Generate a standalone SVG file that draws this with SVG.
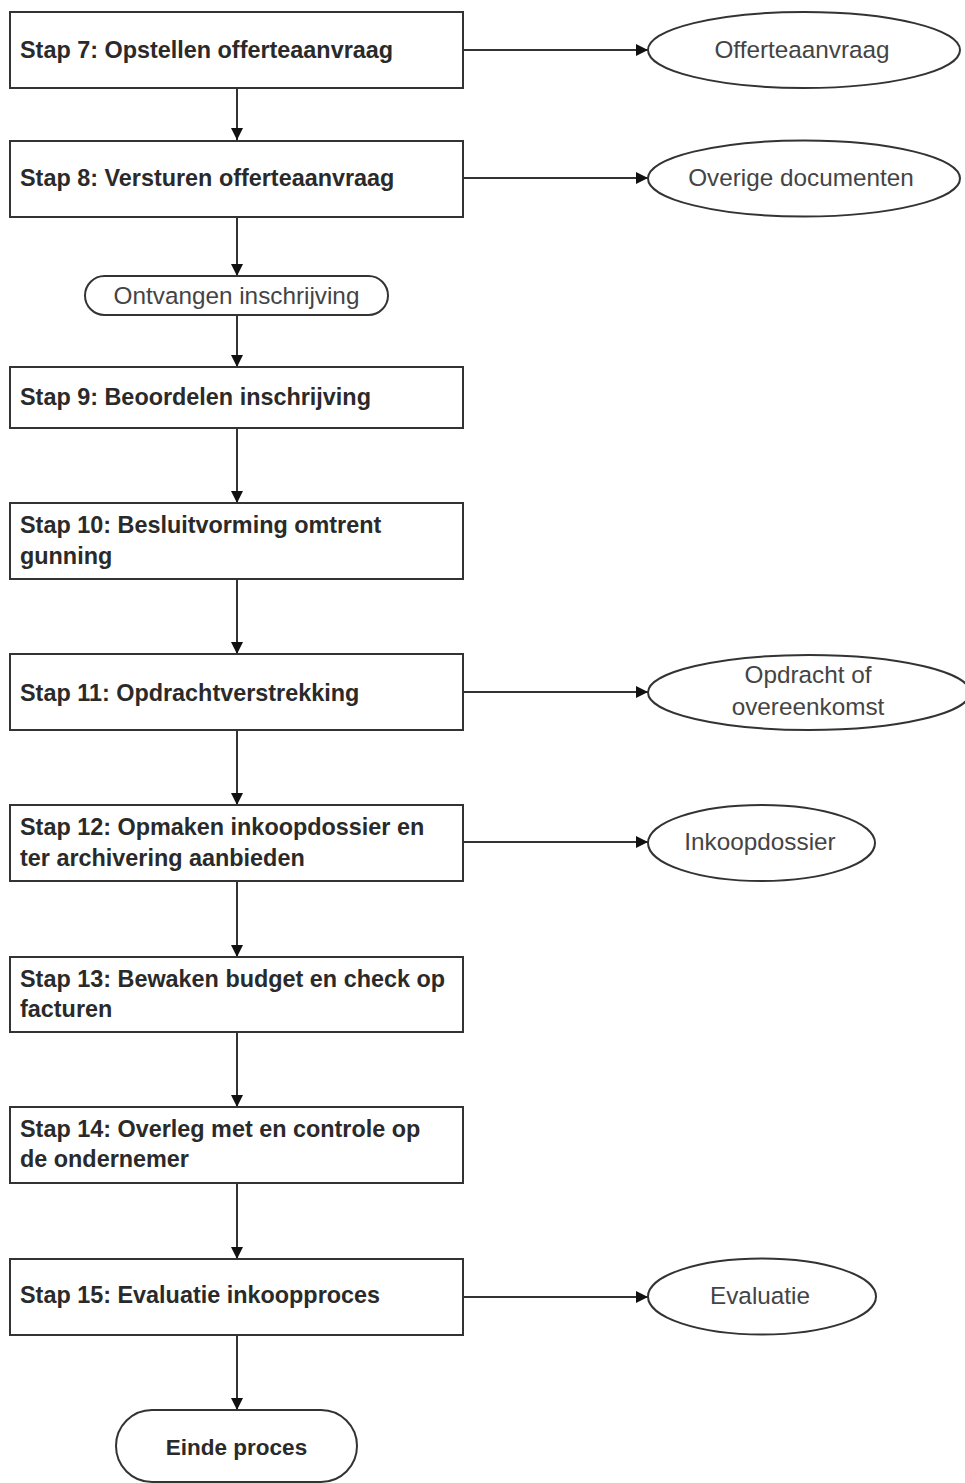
<svg xmlns="http://www.w3.org/2000/svg" width="965" height="1483" viewBox="0 0 965 1483">
<style>
.box{fill:#fff;stroke:#333;stroke-width:2}
.st{font-family:"Liberation Sans",Arial,sans-serif;font-weight:bold;font-size:23.4px;fill:#2a2a2a}
.rg{font-family:"Liberation Sans",Arial,sans-serif;font-size:24.3px;fill:#444;text-anchor:middle}
.bd{font-family:"Liberation Sans",Arial,sans-serif;font-weight:bold;font-size:22.5px;fill:#2a2a2a;text-anchor:middle}
.ln{stroke:#333;stroke-width:2;fill:none;marker-end:url(#ah)}
</style>
<defs>
<marker id="ah" markerUnits="userSpaceOnUse" markerWidth="13" markerHeight="13" refX="12" refY="6.5" orient="auto">
<path d="M0,0.5 L12,6.5 L0,12.5 z" fill="#111"/>
</marker>
</defs>
<rect width="965" height="1483" fill="#fff"/>
<g id="connectors">
<line class="ln" x1="237" y1="88" x2="237" y2="140"/>
<line class="ln" x1="237" y1="217" x2="237" y2="276"/>
<line class="ln" x1="237" y1="315" x2="237" y2="367"/>
<line class="ln" x1="237" y1="428" x2="237" y2="503"/>
<line class="ln" x1="237" y1="579" x2="237" y2="654"/>
<line class="ln" x1="237" y1="730" x2="237" y2="805"/>
<line class="ln" x1="237" y1="881" x2="237" y2="957"/>
<line class="ln" x1="237" y1="1032" x2="237" y2="1107"/>
<line class="ln" x1="237" y1="1183" x2="237" y2="1259"/>
<line class="ln" x1="237" y1="1335" x2="237" y2="1410"/>
<line class="ln" x1="463" y1="50" x2="648" y2="50"/>
<line class="ln" x1="463" y1="178" x2="648" y2="178"/>
<line class="ln" x1="463" y1="692" x2="648" y2="692"/>
<line class="ln" x1="463" y1="842" x2="648" y2="842"/>
<line class="ln" x1="463" y1="1297" x2="648" y2="1297"/>
</g>
<g id="stap7"><rect class="box" x="10" y="12" width="453" height="76"/><text class="st" x="20" y="58">Stap 7: Opstellen offerteaanvraag</text></g>
<g id="stap8"><rect class="box" x="10" y="141" width="453" height="76"/><text class="st" x="20" y="186">Stap 8: Versturen offerteaanvraag</text></g>
<g id="ontvangen"><rect class="box" x="85" y="276" width="303" height="39" rx="19.5"/><text class="rg" x="236.5" y="304">Ontvangen inschrijving</text></g>
<g id="stap9"><rect class="box" x="10" y="367" width="453" height="61"/><text class="st" x="20" y="405">Stap 9: Beoordelen inschrijving</text></g>
<g id="stap10"><rect class="box" x="10" y="503" width="453" height="76"/><text class="st" x="20" y="533">Stap 10: Besluitvorming omtrent</text><text class="st" x="20" y="564">gunning</text></g>
<g id="stap11"><rect class="box" x="10" y="654" width="453" height="76"/><text class="st" x="20" y="701">Stap 11: Opdrachtverstrekking</text></g>
<g id="stap12"><rect class="box" x="10" y="805" width="453" height="76"/><text class="st" x="20" y="835">Stap 12: Opmaken inkoopdossier en</text><text class="st" x="20" y="866">ter archivering aanbieden</text></g>
<g id="stap13"><rect class="box" x="10" y="957" width="453" height="75"/><text class="st" x="20" y="987">Stap 13: Bewaken budget en check op</text><text class="st" x="20" y="1017">facturen</text></g>
<g id="stap14"><rect class="box" x="10" y="1107" width="453" height="76"/><text class="st" x="20" y="1137">Stap 14: Overleg met en controle op</text><text class="st" x="20" y="1167">de ondernemer</text></g>
<g id="stap15"><rect class="box" x="10" y="1259" width="453" height="76"/><text class="st" x="20" y="1303">Stap 15: Evaluatie inkoopproces</text></g>
<g id="einde"><rect class="box" x="116" y="1410" width="241" height="72" rx="36"/><text class="bd" x="236.5" y="1455">Einde proces</text></g>
<g id="offerteaanvraag"><ellipse class="box" cx="804" cy="50" rx="156" ry="38"/><text class="rg" x="802" y="58">Offerteaanvraag</text></g>
<g id="overige"><ellipse class="box" cx="804" cy="178.5" rx="156" ry="38"/><text class="rg" x="801" y="186">Overige documenten</text></g>
<g id="opdracht"><ellipse class="box" cx="809" cy="692.5" rx="161" ry="37.5"/><text class="rg" x="808" y="683">Opdracht of</text><text class="rg" x="808" y="715">overeenkomst</text></g>
<g id="inkoopdossier"><ellipse class="box" cx="761.5" cy="843" rx="113.5" ry="38"/><text class="rg" x="760" y="850">Inkoopdossier</text></g>
<g id="evaluatie"><ellipse class="box" cx="762" cy="1296.5" rx="114" ry="38"/><text class="rg" x="760" y="1304">Evaluatie</text></g>
</svg>
